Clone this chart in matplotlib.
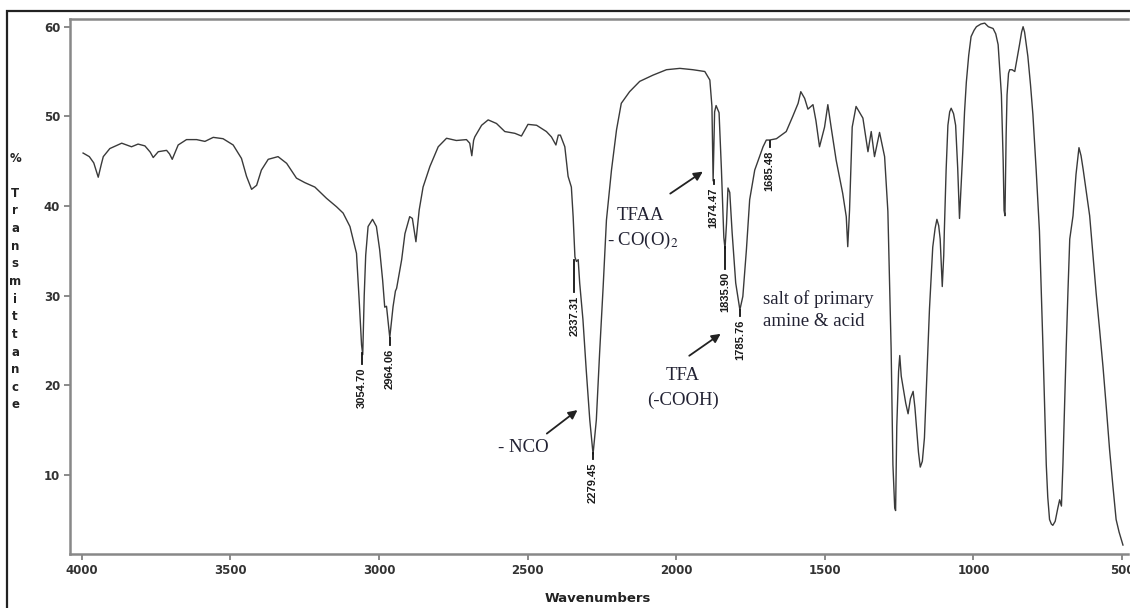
import matplotlib
matplotlib.use("Agg")
import matplotlib.pyplot as plt
from matplotlib.patches import Rectangle

plt.rcParams['mathtext.fontset'] = 'stix'

# spectrum: wavenumber (cm-1) and % transmittance
wavenumber = [3996, 3975, 3960, 3945, 3935, 3928, 3906, 3866, 3833, 3811, 3788, 3770,
              3760, 3743, 3715, 3705, 3696, 3676, 3648, 3614, 3586, 3558, 3525, 3491,
              3463, 3446, 3429, 3412, 3396, 3373, 3340, 3311, 3278, 3250, 3216, 3177,
              3143, 3121, 3098, 3076, 3067, 3059, 3055, 3050, 3045, 3037, 3022, 3009,
              2998, 2988, 2981, 2975, 2964, 2953, 2945, 2941, 2924, 2913, 2897, 2888,
              2876, 2865, 2852, 2829, 2801, 2773, 2740, 2706, 2695, 2688, 2682, 2678,
              2655, 2633, 2605, 2577, 2543, 2521, 2499, 2470, 2437, 2420, 2405, 2397,
              2390, 2375, 2364, 2353, 2347, 2341, 2336, 2330, 2325, 2314, 2303, 2291,
              2280, 2269, 2258, 2246, 2235, 2218, 2201, 2185, 2157, 2123, 2078, 2033,
              1988, 1944, 1904, 1887, 1880, 1876, 1871, 1866, 1856, 1848, 1840, 1836,
              1831, 1826, 1820, 1812, 1800, 1786, 1776, 1764, 1753, 1736, 1708, 1697,
              1686, 1663, 1630, 1608, 1590, 1581, 1568, 1557, 1540, 1530, 1518, 1501,
              1490, 1479, 1462, 1440, 1428, 1423, 1417, 1408, 1395, 1372, 1355, 1344,
              1333, 1316, 1299, 1288, 1277, 1271, 1265, 1262, 1258, 1252, 1248, 1243,
              1237, 1228, 1220, 1212, 1203, 1197, 1192, 1185, 1179, 1172, 1165, 1157,
              1148, 1137, 1129, 1123, 1117, 1112, 1105, 1100, 1098, 1092, 1086, 1080,
              1075, 1067, 1060, 1053, 1047, 1042, 1036, 1030, 1024, 1016, 1008, 998,
              990, 975, 962, 950, 934, 925, 917, 912, 906, 900, 897, 894,
              890, 887, 882, 878, 870, 861, 853, 845, 838, 833, 828, 817,
              808, 800, 789, 778, 766, 755, 750, 744, 738, 733, 725, 716,
              710, 704, 699, 694, 688, 682, 676, 665, 655, 645, 638, 631,
              620, 609, 598, 587, 575, 564, 553, 542, 531, 520, 510, 497]
transmittance = [45.9, 45.5, 44.8, 43.2, 44.6, 45.5, 46.4, 47.0, 46.6, 46.9, 46.7, 46.0,
                 45.4, 46.05, 46.2, 45.8, 45.2, 46.8, 47.4, 47.4, 47.2, 47.65, 47.5, 46.8,
                 45.3, 43.3, 41.85, 42.3, 44.0, 45.2, 45.5, 44.75, 43.1, 42.6, 42.1, 40.85,
                 39.9, 39.2, 37.7, 34.7, 29.5, 24.5, 23.4, 30.0, 34.5, 37.7, 38.5, 37.7,
                 35.1, 31.7, 28.7, 28.8, 25.3, 28.75, 30.5, 30.8, 34.0, 36.9, 38.8, 38.6,
                 36.0, 39.55, 42.1, 44.4, 46.6, 47.55, 47.3, 47.4, 47.0, 45.6, 47.3, 47.7,
                 49.0, 49.6, 49.2, 48.3, 48.1, 47.8, 49.1, 49.0, 48.3, 47.7, 46.8, 47.9,
                 47.9, 46.6, 43.3, 42.1, 38.8, 34.3, 33.8, 34.0, 31.4, 27.3, 21.7, 16.1,
                 12.3, 16.1, 23.55, 31.0, 38.4, 44.0, 48.5, 51.45, 52.75, 53.9, 54.6, 55.2,
                 55.35, 55.2, 55.0, 54.05, 51.1, 42.8, 50.5, 51.2, 50.4, 44.0, 36.5, 35.2,
                 38.0, 42.0, 41.5, 37.0, 31.4, 28.4, 29.9, 35.1, 40.7, 44.0, 46.6, 47.35,
                 47.35, 47.5, 48.3, 50.0, 51.45, 52.75, 52.0, 50.8, 51.3, 49.5, 46.6, 48.8,
                 51.3, 48.8, 45.1, 41.4, 38.8, 35.45, 39.5, 48.8, 51.1, 49.8, 46.05, 48.3,
                 45.5, 48.2, 45.5, 39.4, 24.0, 11.1, 6.3, 6.0, 15.4, 21.5, 23.3, 21.0,
                 19.8, 18.0, 16.8, 18.5, 19.3, 17.5, 15.4, 12.5, 10.85, 11.5, 14.1, 21.0,
                 28.5, 35.4, 37.5, 38.5, 37.8, 36.3, 31.0, 34.5, 37.2, 44.0, 49.0, 50.5,
                 50.9, 50.3, 49.0, 44.2, 38.6, 42.0, 46.0, 50.5, 53.8, 56.8, 58.9, 59.6,
                 60.0, 60.3, 60.4, 60.0, 59.8, 59.2, 58.0, 55.5, 52.4, 45.0, 39.5, 38.9,
                 48.0, 52.4, 54.8, 55.2, 55.2, 55.0, 56.5, 58.0, 59.4, 60.0, 59.4, 56.7,
                 53.5, 50.2, 44.0, 37.2, 24.1, 11.1, 7.5, 5.0, 4.5, 4.35, 4.8, 6.3,
                 7.2, 6.5, 11.1, 17.0, 24.1, 30.5, 36.3, 38.9, 43.5, 46.5, 45.6, 44.1,
                 41.5, 38.9, 34.5, 30.2, 26.0, 22.0, 17.5, 12.8, 8.8, 5.0, 3.6, 2.15]

# labelled peaks: label text, position, bottom of peak, top of label
peak_labels = ["3054.70", "2964.06", "2337.31", "2279.45", "1874.47", "1835.90", "1785.76", "1685.48"]
peak_wn = [3057, 2964, 2343, 2280, 1874, 1836, 1786, 1686]
peak_low = [23.6, 25.3, 34.0, 12.4, 42.9, 35.4, 28.4, 47.2]
label_top = [22.0, 24.1, 30.0, 11.4, 42.0, 32.6, 27.3, 46.2]

xticks = [4000, 3500, 3000, 2500, 2000, 1500, 1000, 500]
yticks = [10, 20, 30, 40, 50, 60]

W, H = 1130, 608
fig = plt.figure(figsize=(W / 100, H / 100), dpi=100)
ax = fig.add_axes([70 / W, 1 - 554 / H, (1128 - 70) / W, (554 - 19) / H])

ax.plot(wavenumber, transmittance, color='#3a3a3a', lw=1.0)
ax.set_xlim(4040, 480)
ax.set_ylim(1.15, 60.86)

ax.set_xticks(xticks)
ax.set_xticklabels([str(t) for t in xticks])
ax.set_yticks(yticks)
ax.set_yticklabels([str(t) for t in yticks])
ax.tick_params(length=4, width=1.2, color='#777777', labelsize=8.5,
               labelcolor='#333333', pad=3)
for lab in ax.get_xticklabels() + ax.get_yticklabels():
    lab.set_fontweight('bold')

for side in ['left', 'bottom', 'top']:
    ax.spines[side].set_color('#888888')
    ax.spines[side].set_linewidth(1.8)
ax.spines['right'].set_visible(False)

# peak markers and numbers
for lab, wn, lo, top in zip(peak_labels, peak_wn, peak_low, label_top):
    ax.plot([wn, wn], [lo, top + 0.4], color='#111111', lw=1.3)
    ax.text(wn, top, lab, rotation=90, ha='center', va='top', fontsize=8,
            fontweight='bold', family='Liberation Sans', color='#1a1a1a')

serif = dict(family='Liberation Serif', fontsize=13.5, color='#222233')
ax.text(2516, 13.0, "- NCO", ha='center', va='center', **serif)
ax.text(2122, 38.9, "TFAA", ha='center', va='center', **serif)
ax.text(2112, 36.2, "- CO(O)$_2$", ha='center', va='center', **serif)
ax.text(1977, 21.1, "TFA", ha='center', va='center', **serif)
ax.text(1977, 18.3, "(-COOH)", ha='center', va='center', **serif)
ax.text(1708, 29.6, "salt of primary", ha='left', va='center', **serif)
ax.text(1708, 27.15, "amine & acid", ha='left', va='center', **serif)

arrow = dict(arrowstyle='-|>', color='#222222', lw=1.3, mutation_scale=13)
ax.annotate("", xy=(2325, 17.4), xytext=(2443, 14.4), arrowprops=arrow)
ax.annotate("", xy=(1903, 44.0), xytext=(2028, 41.2), arrowprops=arrow)
ax.annotate("", xy=(1843, 25.9), xytext=(1964, 23.1), arrowprops=arrow)

fig.text(598 / W, 1 - 599 / H, "Wavenumbers", ha='center', va='center',
         fontsize=9.5, fontweight='bold', color='#222222')

# stacked y label
ylab = "% Transmittance"
for k, ch in enumerate(ylab):
    if ch == ' ':
        continue
    fig.text(15 / W, 1 - (158 + k * 17.64) / H, ch, ha='center', va='center',
             fontsize=8.5, fontweight='bold', color='#222222')

# outer frame
fig.patches.append(Rectangle((7 / W, -0.1), 1.2, 1.1 - 11 / H, transform=fig.transFigure,
                             fill=False, lw=1.6, ec='#222222'))

fig.savefig("out.png", dpi=100)
